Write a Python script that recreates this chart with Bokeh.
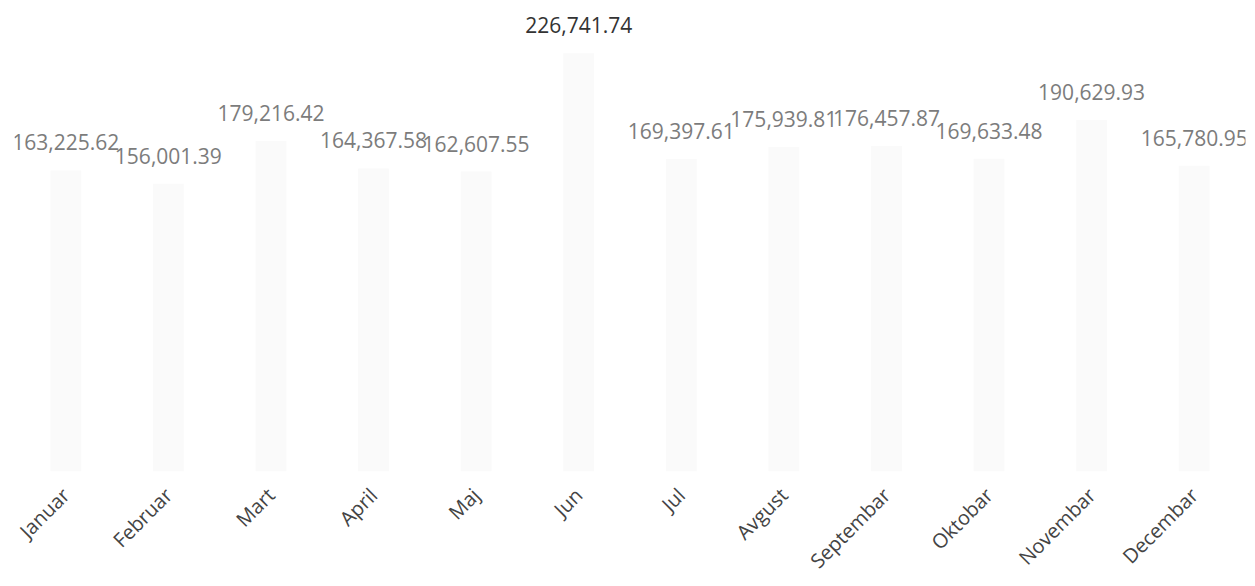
from math import pi
from bokeh.plotting import figure
from bokeh.models import ColumnDataSource, LabelSet, Range1d, FactorRange
from bokeh.core.properties import value
from bokeh.embed import file_html
from bokeh.resources import INLINE

months = ["Januar", "Februar", "Mart", "April", "Maj", "Jun", "Jul",
          "Avgust", "Septembar", "Oktobar", "Novembar", "Decembar"]
values = [163225.62, 156001.39, 179216.42, 164367.58, 162607.55, 226741.74,
          169397.61, 175939.81, 176457.87, 169633.48, 190629.93, 165780.95]

labels = [f"{v:,.2f}" for v in values]
vmax = max(values)
colors = ["#333333" if v == vmax else "#7c7c7c" for v in values]

src = ColumnDataSource(dict(month=months, value=values, label=labels, color=colors))

p = figure(x_range=FactorRange(*months, range_padding=0),
           y_range=Range1d(0, 255400),
           width=1255, height=586, output_backend="svg",
           toolbar_location=None, min_border_left=14, min_border_right=10,
           min_border_top=0, min_border_bottom=0)

p.vbar(x="month", top="value", width=0.3, source=src,
       fill_color="#fafafa", line_color=None)

lbl = LabelSet(x="month", y="value", text="label", source=src,
               text_align="center", text_baseline="middle",
               x_offset=0, y_offset=28, text_font=value("Open Sans"),
               text_font_size="21px", text_color="color")
p.add_layout(lbl)

p.yaxis.visible = False
p.xgrid.visible = False
p.ygrid.visible = False
p.outline_line_color = None
p.xaxis.axis_line_color = None
p.xaxis.major_tick_line_color = None
p.xaxis.minor_tick_line_color = None
p.xaxis.major_label_orientation = pi / 4
p.xaxis.major_label_standoff = 14
p.xaxis.major_label_text_font = "Open Sans"
p.xaxis.major_label_text_font_size = "20px"
p.xaxis.major_label_text_color = "#444444"

open("out.html", "w").write(file_html(p, INLINE))
